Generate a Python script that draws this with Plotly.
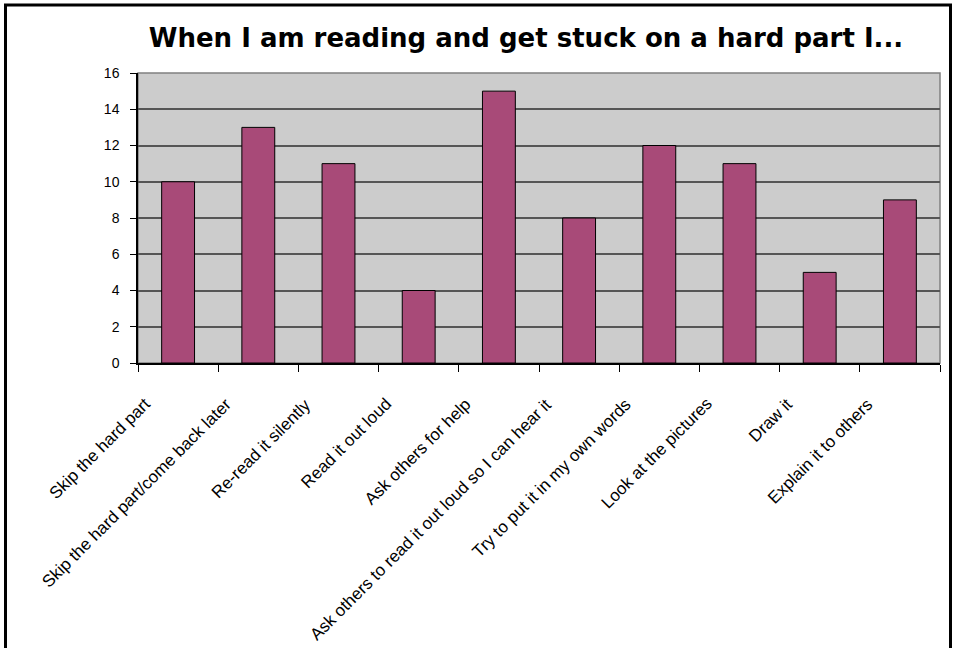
import plotly.graph_objects as go

categories = [
    "Skip the hard part",
    "Skip the hard part/come back later",
    "Re-read it silently",
    "Read it out loud",
    "Ask others for help",
    "Ask others to read it out loud so I can hear it",
    "Try to put it in my own words",
    "Look at the pictures",
    "Draw it",
    "Explain it to others",
]
values = [10, 13, 11, 4, 15, 8, 12, 11, 5, 9]
y_ticks = [0, 2, 4, 6, 8, 10, 12, 14, 16]

W, H = 954, 648
L, R, T, B = 138, 14, 73, 285

fig = go.Figure(
    go.Bar(
        x=categories,
        y=values,
        marker=dict(color="#A84A78", line=dict(color="#000000", width=1)),
        hoverinfo="x+y",
    )
)

pw = W - L - R
ph = H - T - B


def px_x(p):
    return (p - L) / pw


def px_y(p):
    return (H - B - p) / ph


annotations = [
    dict(
        x=c,
        y=0,
        xref="x",
        yref="y",
        text=c,
        showarrow=False,
        textangle=-45,
        xanchor="right",
        yanchor="top",
        xshift=-21,
        yshift=-29,
        font=dict(size=17, family="Liberation Sans, Arial", color="black"),
    )
    for c in categories
]

fig.update_layout(
    width=W,
    height=H,
    margin=dict(l=L, r=R, t=T, b=B),
    paper_bgcolor="white",
    plot_bgcolor="#CCCCCC",
    bargap=0.59,
    showlegend=False,
    annotations=annotations,
    title=dict(
        text="When I am reading and get stuck on a hard part I...",
        x=526 / W,
        xanchor="center",
        y=1 - 38 / H,
        yanchor="middle",
        font=dict(family="DejaVu Sans", size=26, color="black", weight="bold"),
    ),
    font=dict(family="Liberation Sans, Arial", color="black"),
    shapes=[
        dict(
            type="rect",
            xref="paper",
            yref="paper",
            x0=px_x(5.5),
            x1=px_x(950.5),
            y0=px_y(660),
            y1=px_y(5),
            line=dict(color="black", width=3),
            fillcolor="rgba(0,0,0,0)",
            layer="above",
        ),
        dict(
            type="rect",
            xref="paper",
            yref="paper",
            x0=0,
            x1=1,
            y0=0,
            y1=1,
            line=dict(color="#808080", width=1.5),
            fillcolor="rgba(0,0,0,0)",
            layer="below",
        ),
    ],
)

fig.update_xaxes(
    range=[-0.5, len(categories) - 0.5],
    autorange=False,
    showticklabels=False,
    ticks="outside",
    tickson="boundaries",
    ticklen=7,
    tickcolor="black",
    showline=True,
    linecolor="black",
    linewidth=1.5,
    showgrid=False,
    automargin=False,
)
fig.update_yaxes(
    range=[0, 16],
    autorange=False,
    tickvals=y_ticks,
    tickfont=dict(size=14, family="Liberation Sans, Arial"),
    ticks="outside",
    ticklen=6,
    tickcolor="black",
    ticklabelstandoff=8,
    showline=True,
    linecolor="black",
    linewidth=1.5,
    showgrid=True,
    gridcolor="#555555",
    gridwidth=1.5,
    zeroline=False,
    automargin=False,
)

fig.write_html("out.html")
